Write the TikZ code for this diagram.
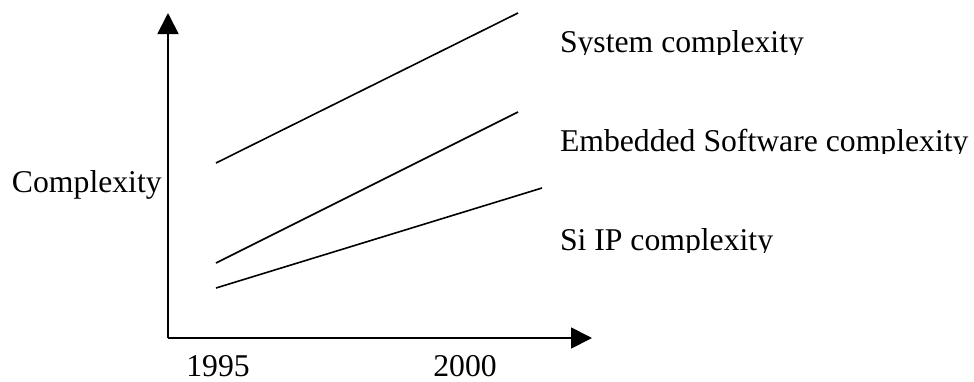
\documentclass[tikz,border=0pt]{standalone}
\usepackage{fontspec}
\setmainfont{Liberation Serif}
\usetikzlibrary{arrows.meta}
\begin{document}
\begin{tikzpicture}[x=1pt,y=-1pt,
  axis/.style={line width=1.8pt,-{Triangle[length=21pt,width=21pt]}},
  trend/.style={line width=1.6pt},
  lbl/.style={inner sep=0pt,outer sep=0pt,font=\fontsize{31.7}{36}\selectfont,anchor=base west},
  yr/.style={inner sep=0pt,outer sep=0pt,font=\fontsize{31.7}{36}\selectfont,anchor=base}]
\useasboundingbox (0,0) rectangle (974,381);
% axes
\coordinate (origin) at (168,338);
\coordinate (ytip) at (168,13);
\coordinate (xtip) at (592,338);
\draw[axis] (origin) -- (ytip);
\draw[axis] (origin) -- (xtip);
% trend lines
\coordinate (sysA) at (216,163);
\coordinate (sysB) at (518,13);
\coordinate (swA) at (216,263);
\coordinate (swB) at (518,112);
\coordinate (ipA) at (216,288);
\coordinate (ipB) at (542,188);
\draw[trend] (sysA) -- (sysB);
\draw[trend] (swA) -- (swB);
\draw[trend] (ipA) -- (ipB);
% labels (text boxes cut off just under the baseline)
\begin{scope}
\clip (550,0) rectangle (974,54);
\node[lbl] (sys) at (560,52) {System complexity};
\end{scope}
\begin{scope}
\clip (550,100) rectangle (974,153);
\node[lbl] (sw) at (560,151) {Embedded Software complexity};
\end{scope}
\begin{scope}
\clip (550,200) rectangle (974,252);
\node[lbl] (ip) at (560,250) {Si IP complexity};
\end{scope}
\node[lbl] (ylab) at (12,192) {Complexity};
\node[yr] (y1995) at (218,376) {1995};
\node[yr] (y2000) at (465,376) {2000};
\end{tikzpicture}
\end{document}
